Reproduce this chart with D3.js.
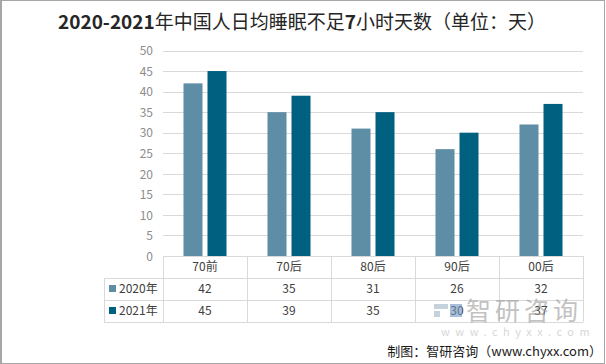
<!DOCTYPE html>
<html><head><meta charset="utf-8">
<script src="https://cdn.jsdelivr.net/npm/d3@7"></script>
<style>
html,body{margin:0;padding:0;background:#fff;}
svg{display:block;}
</style></head>
<body>
<svg id="c" width="606" height="364"></svg>
<script>
const categories = ["70前","70后","80后","90后","00后"];
const seriesNames = ["2020年","2021年"];
const values2020 = [42,35,31,26,32];
const values2021 = [45,39,35,30,37];
const yTicks = [0,5,10,15,20,25,30,35,40,45,50];
const colors = ["#5e8ea6","#00607f"];

const svg = d3.select("#c");
const font = "'Noto Sans CJK SC','Noto Sans',sans-serif";

// frame
svg.append("rect").attr("x",0.5).attr("y",0.5).attr("width",604).attr("height",363)
  .attr("fill","#fff").attr("stroke","#a6a6a6").attr("stroke-width",1);
svg.append("line").attr("x1",1).attr("x2",1).attr("y1",0).attr("y2",364).attr("stroke","#a6a6a6").attr("stroke-width",2);

// title
const titleParts = [["2020-2021",true],["年中国人日均睡眠不足",false],["7",true],["小时天数（单位：天）",false]];
const title = svg.append("text").attr("x",302).attr("y",29).attr("text-anchor","middle")
  .attr("font-family",font).attr("font-size",19).attr("fill","#262626");
titleParts.forEach(p=>{
  title.append("tspan").attr("font-weight",p[1]?"bold":"normal").text(p[0]);
});

const x = d3.scaleBand().domain(categories).range([163,583]);
const y = d3.scaleLinear().domain([0,50]).range([256,50.5]);
const series = [values2020, values2021];

// gridlines
svg.append("g").selectAll("line").data(yTicks.filter(d=>d>0)).join("line")
  .attr("x1",163).attr("x2",583).attr("y1",d=>Math.round(y(d))+0.5).attr("y2",d=>Math.round(y(d))+0.5)
  .attr("stroke","#d9d9d9").attr("stroke-width",1);

// y axis
const yAxis = d3.axisLeft(y).tickValues(yTicks).tickSize(0).tickPadding(0);
const gy = svg.append("g").attr("transform","translate(153,0)").call(yAxis);
gy.select(".domain").remove();
gy.selectAll("text").attr("font-family",font).attr("font-size",12).attr("fill","#8c8c8c").attr("dy","0.35em");

// bars
const bw = 19, gap = 5;
series.forEach((vals,si)=>{
  svg.append("g").selectAll("rect").data(categories).join("rect")
    .attr("x",(d)=>x(d)+x.bandwidth()/2 - (bw*2+gap)/2 + si*(bw+gap))
    .attr("width",bw)
    .attr("y",(d,i)=>y(vals[i]))
    .attr("height",(d,i)=>y(0)-y(vals[i]))
    .attr("fill",colors[si]);
});

// table
const rowH = 22;
const t0 = 256;
const tg = svg.append("g").attr("stroke","#d9d9d9").attr("stroke-width",1).attr("fill","none");
[t0, t0+rowH, t0+2*rowH, t0+3*rowH].forEach((yy,i)=>{
  tg.append("line").attr("x1", i===0?163:104).attr("x2",583).attr("y1",yy+0.5).attr("y2",yy+0.5);
});
tg.append("line").attr("x1",104.5).attr("x2",104.5).attr("y1",t0+rowH).attr("y2",t0+3*rowH);
categories.forEach(c=>{
  tg.append("line").attr("x1",Math.round(x(c))+0.5).attr("x2",Math.round(x(c))+0.5).attr("y1",t0).attr("y2",t0+3*rowH);
});
tg.append("line").attr("x1",583.5).attr("x2",583.5).attr("y1",t0).attr("y2",t0+3*rowH);

svg.append("g").selectAll("text").data(categories).join("text")
  .attr("x",d=>x(d)+x.bandwidth()/2).attr("y",t0+rowH/2).attr("dy","0.35em")
  .attr("text-anchor","middle").attr("font-family",font).attr("font-size",12).attr("fill","#404040")
  .text(d=>d);

series.forEach((vals,si)=>{
  const ry = t0+rowH*(si+1)+rowH/2;
  svg.append("rect").attr("x",109).attr("y",ry-4).attr("width",7).attr("height",7).attr("fill",colors[si]);
  svg.append("text").attr("x",119).attr("y",ry).attr("dy","0.35em").attr("font-family",font)
    .attr("font-size",12).attr("fill","#404040").text(seriesNames[si]);
  svg.append("g").selectAll("text").data(categories).join("text")
    .attr("x",d=>x(d)+x.bandwidth()/2).attr("y",ry).attr("dy","0.35em")
    .attr("text-anchor","middle").attr("font-family",font).attr("font-size",12).attr("fill","#404040")
    .text((d,i)=>vals[i]);
});

// watermark
const wm = svg.append("g").attr("opacity",0.6);
wm.append("rect").attr("x",434).attr("y",304).attr("width",14).attr("height",5).attr("fill","#9fb3c8");
wm.append("rect").attr("x",434).attr("y",311).attr("width",6).attr("height",6).attr("fill","#9fb3c8");
wm.append("rect").attr("x",450).attr("y",304).attr("width",12).attr("height",13).attr("fill","#6f95c0");
wm.append("text").attr("x",466).attr("y",320).attr("font-family",font).attr("font-size",25)
  .attr("letter-spacing",4).attr("fill","#9a9a9a").text("智研咨询");
wm.append("text").attr("x",441).attr("y",336).attr("font-family",font).attr("font-size",11)
  .attr("letter-spacing",5.5).attr("fill","#bdbdbd").text("www.chyxx.com");

// source
svg.append("text").attr("x",602).attr("y",356).attr("text-anchor","end").attr("font-family",font)
  .attr("font-size",13).attr("fill","#1a1a1a").text("制图：智研咨询（www.chyxx.com）");
</script>
</body></html>
